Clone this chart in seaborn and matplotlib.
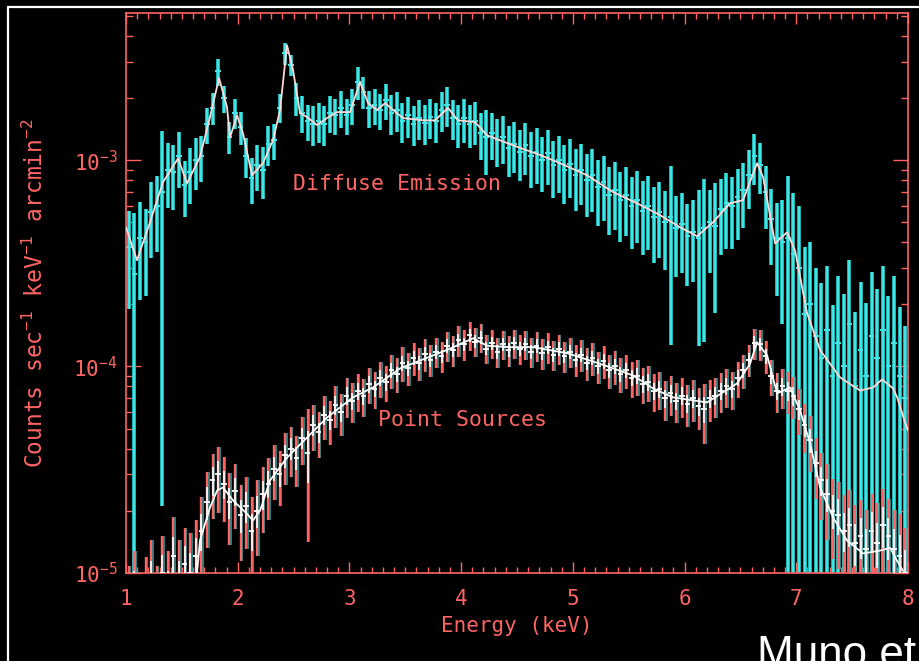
import numpy as np
import matplotlib
matplotlib.use("Agg")
import matplotlib.pyplot as plt
import seaborn as sns
from matplotlib.lines import Line2D
from matplotlib.ticker import FixedLocator, FixedFormatter, MultipleLocator, LogLocator, NullFormatter

# ---------------- data (rates in units of 1e-6 counts s^-1 keV^-1 arcmin^-2) ----------------
energy_keV = np.round(np.arange(1.025, 8.0, 0.05), 3)   # 140 spectral bin centres

diffuse_rate = [
    380, 280, 420, 400, 560, 600, 700, 900, 880, 1050,
    760, 880, 1000, 1050, 1500, 1800, 2700, 2000, 1300, 1700,
    1450, 1050, 820, 950, 900, 1200, 1250, 1800, 3300, 2900,
    2000, 1700, 1550, 1500, 1550, 1500, 1700, 1650, 1800, 1650,
    1850, 2400, 2150, 1800, 1850, 1750, 1950, 1700, 1750, 1550,
    1650, 1500, 1600, 1520, 1620, 1550, 1750, 1850, 1600, 1500,
    1600, 1500, 1550, 1350, 1300, 1350, 1250, 1300, 1150, 1200,
    1100, 1180, 1050, 1100, 1000, 1080, 950, 1000, 900, 960,
    850, 900, 800, 850, 740, 780, 680, 720, 640, 680,
    600, 640, 570, 600, 530, 560, 500, 530, 470, 490,
    430, 450, 420, 470, 500, 480, 580, 620, 600, 660,
    720, 850, 1050, 950, 700, 520, 420, 400, 420, 350,
    300, 180, 200, 140, 110, 150, 90, 130, 100, 160,
    80, 120, 90, 140, 110, 150, 100, 130, 90, 70,
]
diffuse_err_pct = [
    50, 97, 50, 45, 40, 40, 97, 35, 35, 30,
    30, 30, 28, 25, 20, 18, 15, 15, 18, 17,
    18, 22, 25, 25, 28, 22, 20, 16, 12, 12,
    18, 20, 20, 22, 22, 22, 20, 20, 20, 20,
    20, 18, 18, 20, 20, 20, 20, 22, 22, 22,
    22, 22, 22, 22, 22, 22, 22, 22, 22, 24,
    24, 24, 24, 26, 35, 26, 26, 26, 28, 28,
    28, 28, 30, 30, 30, 30, 31, 31, 32, 32,
    33, 33, 34, 34, 35, 35, 36, 36, 37, 37,
    38, 38, 39, 39, 40, 40, 41, 76, 42, 42,
    43, 43, 70, 72, 43, 62, 40, 40, 38, 38,
    35, 32, 28, 28, 34, 40, 48, 60, 99, 99,
    100, 110, 100, 115, 130, 105, 120, 110, 125, 105,
    130, 115, 125, 105, 115, 105, 120, 110, 115, 125,
]

point_rate = [
    6, 8, 5, 7, 9, 6, 10, 8, 12, 9,
    11, 10, 12, 16, 22, 28, 30, 27, 22, 25,
    19, 21, 16, 20, 24, 27, 32, 30, 37, 40,
    36, 45, 38, 52, 48, 58, 55, 65, 60, 72,
    68, 76, 72, 82, 78, 88, 84, 96, 92, 104,
    98, 110, 104, 115, 108, 118, 112, 126, 120, 134,
    128, 142, 132, 138, 122, 130, 118, 128, 120, 130,
    122, 128, 118, 126, 116, 124, 114, 122, 112, 118,
    108, 114, 104, 110, 100, 106, 96, 100, 92, 96,
    88, 90, 82, 84, 76, 78, 70, 74, 68, 72,
    66, 70, 64, 62, 70, 72, 76, 80, 78, 88,
    96, 108, 130, 128, 112, 90, 76, 80, 76, 72,
    62, 52, 44, 34, 28, 24, 20, 19, 16, 17,
    14, 15, 13, 16, 14, 17, 15, 13, 12, 10,
]
point_err_pct = [
    80, 60, 90, 70, 60, 80, 50, 60, 55, 60,
    50, 55, 50, 45, 40, 35, 35, 35, 38, 35,
    40, 38, 45, 40, 35, 33, 30, 30, 28, 27,
    28, 26, 63, 25, 25, 24, 24, 23, 23, 22,
    22, 21, 21, 20, 20, 20, 20, 19, 19, 19,
    18, 18, 18, 18, 18, 17, 17, 17, 17, 17,
    17, 16, 16, 16, 16, 16, 17, 16, 17, 16,
    17, 16, 17, 17, 17, 17, 17, 17, 17, 17,
    18, 18, 18, 18, 18, 18, 19, 19, 19, 19,
    20, 20, 20, 20, 21, 21, 22, 22, 22, 22,
    23, 23, 23, 32, 23, 22, 22, 21, 21, 20,
    19, 18, 17, 17, 18, 20, 22, 22, 23, 23,
    25, 27, 30, 33, 36, 40, 42, 45, 48, 48,
    52, 50, 55, 50, 55, 50, 52, 55, 60, 65,
]

diffuse_model_E = [1.00, 1.098, 1.215, 1.331, 1.466, 1.546, 1.662, 1.752, 1.833, 1.904,
                   1.931, 1.994, 2.047, 2.128, 2.226, 2.316, 2.379, 2.441, 2.495, 2.558,
                   2.620, 2.710, 2.799, 2.889, 3.005, 3.095, 3.167, 3.247, 3.319, 3.426,
                   3.480, 3.659, 3.766, 3.883, 3.972, 4.124, 4.232, 4.465, 4.706, 4.885,
                   5.127, 5.360, 5.575, 5.781, 5.960, 6.112, 6.255, 6.407, 6.524, 6.649,
                   6.703, 6.810, 6.918, 6.989, 7.097, 7.213, 7.392, 7.571, 7.688, 7.768,
                   7.867, 7.903, 7.974, 8.00]
diffuse_model_rate = [473, 327, 500, 782, 1020, 773, 1035, 1620, 2500, 1810,
                      1290, 1650, 1350, 846, 967, 1250, 1750, 3610, 2740, 1690,
                      1620, 1480, 1600, 1710, 1710, 2390, 1890, 1750, 1890, 1690,
                      1600, 1560, 1560, 1790, 1560, 1530, 1320, 1180, 1060, 967,
                      845, 700, 618, 541, 473, 428, 500, 618, 640, 967,
                      827, 395, 447, 365, 181, 120, 88.5, 76.4, 79.1, 86.5,
                      78.2, 70.8, 53.5, 48.9]

point_model_E = [1.55, 1.636, 1.662, 1.752, 1.815, 1.868, 1.958, 2.083, 2.137, 2.200,
                 2.289, 2.441, 2.620, 2.799, 3.032, 3.211, 3.453, 3.748, 3.901, 4.107,
                 4.232, 4.438, 4.644, 4.948, 5.244, 5.539, 5.718, 5.897, 6.201, 6.470,
                 6.586, 6.649, 6.739, 6.828, 6.945, 7.034, 7.124, 7.213, 7.330, 7.455,
                 7.598, 7.750, 7.840, 7.903, 7.956]
point_model_rate = [6, 10, 14.3, 20.7, 25.0, 25.9, 22.4, 19.3, 17.9, 20.0,
                    28.0, 36.1, 45.2, 56.5, 70.8, 79.1, 97.8, 113, 122, 137,
                    126, 124, 124, 116, 103, 90.4, 78.2, 70.8, 66.9, 82.7,
                    103, 131, 113, 74.0, 79.1, 61.1, 42.3, 25.9, 18.5, 14.3,
                    12.4, 12.8, 13.2, 11.4, 10.2]

ytick_values = [1e-5, 1e-4, 1e-3]
ytick_labels = ["10$^{-5}$", "10$^{-4}$", "10$^{-3}$"]
xtick_values = [1, 2, 3, 4, 5, 6, 7, 8]

# ---------------- style ----------------
sns.set_theme(style="ticks", rc={"axes.facecolor": "black", "figure.facecolor": "black"})
plt.rcParams["font.family"] = ["DejaVu Sans Mono", "DejaVu Sans"]
plt.rcParams["mathtext.fontset"] = "custom"
plt.rcParams["mathtext.rm"] = "DejaVu Sans Mono"
plt.rcParams["mathtext.it"] = "DejaVu Sans Mono"
plt.rcParams["mathtext.default"] = "regular"

RED = "#ff6464"
CYAN_EDGE = "#1fbcbc"
CYAN = "#45e8e8"

fig = plt.figure(figsize=(9.2, 6.61), dpi=100, facecolor="black")
ax = fig.add_axes([126 / 920, 1 - 572.7 / 661, (908 - 126) / 920, (572.7 - 13) / 661])
ax.set_facecolor("black")

scale = 1e-6
E = energy_keV
dv = np.array(diffuse_rate, float) * scale
de = dv * np.array(diffuse_err_pct, float) / 100
pv = np.array(point_rate, float) * scale
pe = pv * np.array(point_err_pct, float) / 100

# diffuse emission data
dlo = np.clip(dv - de, 1e-7, None)
ax.vlines(E, dlo, dv + de, color=CYAN_EDGE, lw=2.8, zorder=2)
ax.vlines(E, dlo, dv + de, color=CYAN, lw=1.3, zorder=2)
ax.hlines(dv, E - 0.025, E + 0.025, color=CYAN, lw=1.4, zorder=2)
sns.lineplot(x=diffuse_model_E, y=np.array(diffuse_model_rate) * scale, ax=ax,
             color="#ffd8d8", lw=1.3, zorder=4, sort=False, estimator=None)

# point source data
plo = np.clip(pv - pe, 1e-7, None)
ax.vlines(E + 0.014, plo, pv + pe, color="#30c8c8", lw=1.1, alpha=0.85, zorder=5)
ax.vlines(E, plo, pv + pe, color=RED, lw=1.7, zorder=6)
ax.vlines(E, pv - 0.45 * pe, pv + 0.45 * pe, color="white", lw=1.2, zorder=7)
ax.hlines(pv, E - 0.025, E + 0.025, color="white", lw=1.3, zorder=7)
sns.lineplot(x=point_model_E, y=np.array(point_model_rate) * scale, ax=ax,
             color="white", lw=1.3, zorder=8, sort=False, estimator=None)

# axes
ax.set_yscale("log")
ax.set_xlim(1, 8)
ax.set_ylim(1e-5, 5.17e-3)
ax.yaxis.set_major_locator(FixedLocator(ytick_values))
ax.yaxis.set_major_formatter(FixedFormatter(ytick_labels))
ax.yaxis.set_minor_locator(LogLocator(base=10, subs=np.arange(2, 10)))
ax.yaxis.set_minor_formatter(NullFormatter())
ax.xaxis.set_major_locator(FixedLocator(xtick_values))
ax.xaxis.set_minor_locator(MultipleLocator(0.1))

ax.tick_params(which="both", direction="in", top=True, right=True, color=RED,
               labelcolor=RED, labelsize=15, width=1.0)
ax.tick_params(axis="y", which="major", length=11, pad=6)
ax.tick_params(axis="y", which="minor", length=5)
ax.tick_params(axis="x", which="major", length=8, pad=12)
ax.tick_params(axis="x", which="minor", length=4)
for s in ax.spines.values():
    s.set_color(RED)
    s.set_linewidth(1.2)

ax.set_xlabel("Energy (keV)", color=RED, fontsize=15)
ax.xaxis.set_label_coords(0.5, -(626 - 572.7) / 559.7)
ax.xaxis.label.set_va("center")
ax.set_ylabel("Counts sec$^{-1}$ keV$^{-1}$ arcmin$^{-2}$", color=RED, fontsize=16.5)
ax.yaxis.set_label_coords(-0.1164, 0.5)
ax.yaxis.label.set_va("center")

ax.text(2.495, 7.7e-4, "Diffuse Emission", color=RED, fontsize=15.5, ha="left", va="center", zorder=10)
ax.text(3.256, 5.47e-5, "Point Sources", color=RED, fontsize=15.5, ha="left", va="center", zorder=10)

# slide frame and credit
fig.add_artist(Line2D([8 / 920, 8 / 920], [0, 1 - 7 / 661], color="white", lw=1.6,
                      transform=fig.transFigure))
fig.add_artist(Line2D([8 / 920, 1], [1 - 7 / 661, 1 - 7 / 661], color="white", lw=1.6,
                      transform=fig.transFigure))
fig.text(757 / 920, -6 / 661, "Muno et al.", color="white", fontsize=31.7,
         family="Liberation Sans", ha="left", va="baseline")

fig.savefig("out.png", dpi=100, facecolor="black")
